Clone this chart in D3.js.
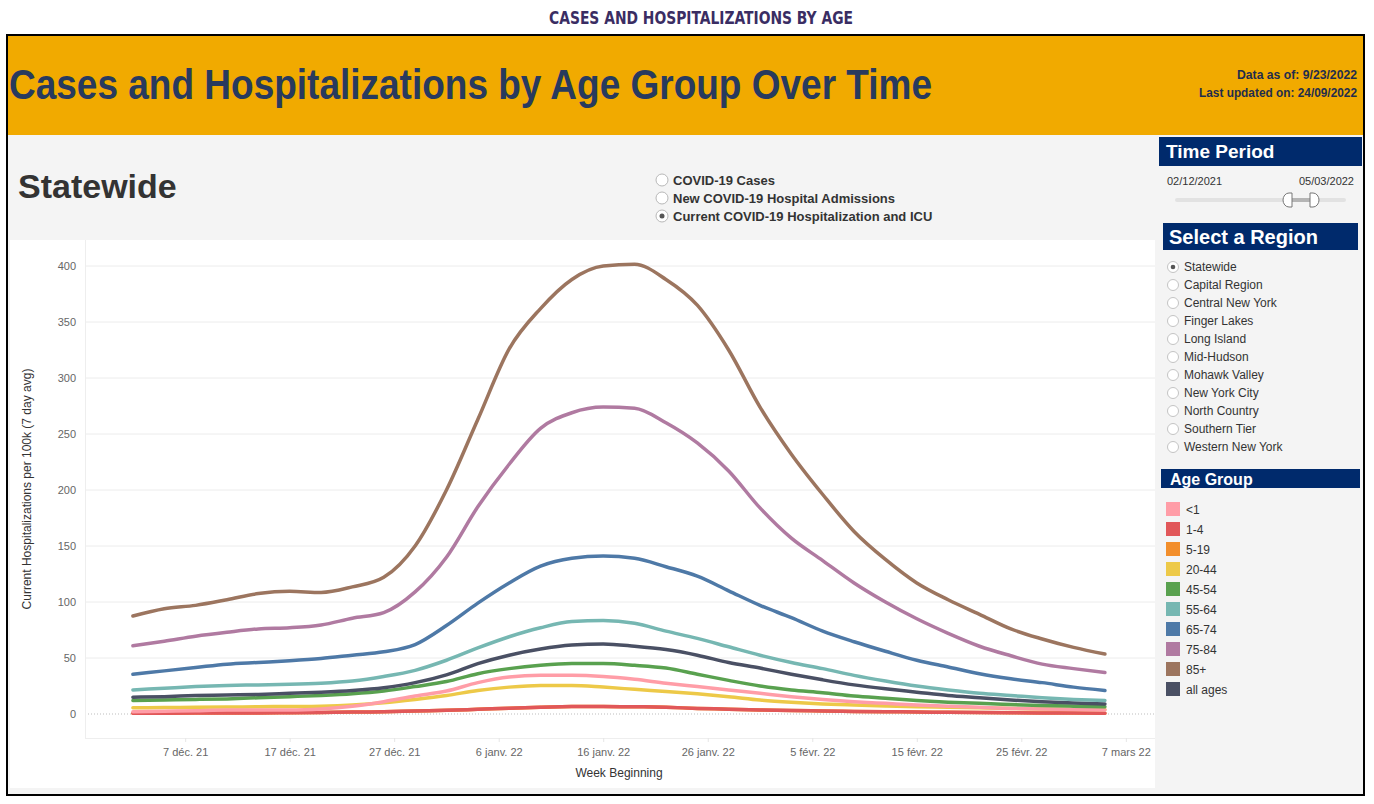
<!DOCTYPE html>
<html>
<head>
<meta charset="utf-8">
<script src="https://cdn.jsdelivr.net/npm/d3@7"></script>
<style>
  html, body { margin: 0; padding: 0; background: #ffffff; }
  svg { display: block; font-family: "Liberation Sans", Arial, sans-serif; }
</style>
</head>
<body>
<svg id="chart" width="1374" height="804"></svg>
<script>
// ---------------- DATA ----------------
const dates = ["2021-12-02","2021-12-05","2021-12-08","2021-12-11","2021-12-14","2021-12-17","2021-12-20","2021-12-23",
  "2021-12-26","2021-12-29","2022-01-01","2022-01-04","2022-01-07","2022-01-10","2022-01-13","2022-01-16",
  "2022-01-19","2022-01-22","2022-01-25","2022-01-28","2022-01-31","2022-02-03","2022-02-06","2022-02-09",
  "2022-02-12","2022-02-15","2022-02-18","2022-02-21","2022-02-24","2022-02-27","2022-03-02","2022-03-05"];

const ageGroups = ["<1","1-4","5-19","20-44","45-54","55-64","65-74","75-84","85+","all ages"];
const ageColors = ["#ff9da7","#e15759","#f28e2b","#edc948","#59a14f","#76b7b2","#4e79a7","#b07aa1","#9c755f","#4a5064"];

const valuesUnder1 = [2,2.5,3,3.5,3.5,3.5,4.5,7,11,16,20.5,28,33,34.5,34.5,33.5,31,27.5,24.5,21.5,18.5,15.5,13,11,9.5,8,7,6,5,4.5,4,3.5];
const values1to4 = [0.6,0.7,0.8,0.9,1,1.2,1.4,1.7,2,2.7,3.3,4.2,5.2,6,6.6,6.8,6.5,6,5,4.3,3.6,3.1,2.7,2.3,2,1.8,1.5,1.3,1.1,0.9,0.8,0.7];
const values5to19 = [0.6,0.7,0.8,0.9,1,1.2,1.4,1.7,2,2.7,3.3,4.2,5.2,6,6.6,6.8,6.5,6,5,4.3,3.6,3.1,2.7,2.3,2,1.8,1.5,1.3,1.1,0.9,0.8,0.7];
const values20to44 = [5.5,5.7,6,6.2,6.5,6.7,7,8,10,13,16.5,21,24,25.5,25.5,24,22,20,18,15.5,12.5,10.5,9,8,7.2,6.5,6,5.5,5,4.5,4.2,4];
const values45to54 = [12,12.5,13,13.5,14.5,15.5,16.5,18,20.5,24.5,29,36,40.5,43.5,45,45,43.5,41,35.5,30,25,21.5,19,16,14,12,10.5,9.5,8.5,7.5,7,6.5];
const values55to64 = [21.5,23,24.5,25.5,26,26.5,27.5,29.5,33.5,39,48,59,69,77,82.5,83.5,81,74,67.5,60,52.5,46,40.5,34.5,29.5,25,21.5,18.5,16.5,14.5,13,12];
const values65to74 = [35.5,38.5,41.5,44.5,46,47.5,49.5,52.5,55.5,62,79,99,117,132,139,141,139,131.5,123,110,97,86,74,64.5,56,48,42,36,31.5,28,24,21];
const values75to84 = [61,65,69.5,73,76,77,79.5,85.5,90.5,109,140,185,223,255,269,274,273,260,242,217,184,157,137,117,100,85,72,60.5,52,44.5,40.5,37];
const values85plus = [87.5,94,97,102,107.5,109.5,108.5,113.5,122,150,200,263,326,362,388,400,401.5,388,365,325,274,232,196,163,138,117,102,89,76,67,59.5,53.5];
const valuesAllAges = [15,15.5,16.5,17,17.5,18.5,19.5,21,23.5,28,35,45,52.5,58,61.5,62.5,60.5,57.5,52.5,46,41,35.5,30.5,26,22.5,19.5,16.5,14.5,12.5,11,9.8,9];

const yTicks = [0,50,100,150,200,250,300,350,400];
const xTickDates = ["2021-12-07","2021-12-17","2021-12-27","2022-01-06","2022-01-16","2022-01-26","2022-02-05","2022-02-15","2022-02-25","2022-03-07"];
const xTickLabels = ["7 déc. 21","17 déc. 21","27 déc. 21","6 janv. 22","16 janv. 22","26 janv. 22","5 févr. 22","15 févr. 22","25 févr. 22","7 mars 22"];

const regions = ["Statewide","Capital Region","Central New York","Finger Lakes","Long Island","Mid-Hudson","Mohawk Valley","New York City","North Country","Southern Tier","Western New York"];
const metrics = ["COVID-19 Cases","New COVID-19 Hospital Admissions","Current COVID-19 Hospitalization and ICU"];

// series table (drawing order: bottom first)
const seriesValues = {
  "<1": valuesUnder1, "1-4": values1to4, "5-19": values5to19, "20-44": values20to44,
  "45-54": values45to54, "55-64": values55to64, "65-74": values65to74, "75-84": values75to84,
  "85+": values85plus, "all ages": valuesAllAges
};
const drawOrder = ["5-19","1-4","20-44","<1","45-54","all ages","55-64","65-74","75-84","85+"];

// ---------------- DRAW ----------------
const svg = d3.select("#chart");
const parse = d3.utcParse("%Y-%m-%d");
const colorOf = d3.scaleOrdinal(ageGroups, ageColors);

// Top page title
svg.append("text").attr("x", 701).attr("y", 24).attr("text-anchor", "middle")
  .attr("font-family", "'DejaVu Sans Condensed', 'Liberation Sans Narrow', sans-serif")
  .attr("font-weight", "bold").attr("font-size", 17).attr("fill", "#3a2d63")
  .attr("textLength", 304).attr("lengthAdjust", "spacingAndGlyphs")
  .text("CASES AND HOSPITALIZATIONS BY AGE");

// Dashboard frame
svg.append("rect").attr("x", 8).attr("y", 36).attr("width", 1355).attr("height", 758).attr("fill", "#f4f4f4");
svg.append("rect").attr("x", 8).attr("y", 36).attr("width", 1355).attr("height", 99).attr("fill", "#f1aa00");
svg.append("text").attr("x", 9).attr("y", 99).attr("font-weight", "bold").attr("font-size", 42)
  .attr("fill", "#283a5e").attr("textLength", 923).attr("lengthAdjust", "spacingAndGlyphs")
  .text("Cases and Hospitalizations by Age Group Over Time");
svg.append("text").attr("x", 1357).attr("y", 79).attr("text-anchor", "end").attr("font-weight", "bold")
  .attr("font-size", 12.5).attr("fill", "#1f2d4d").attr("textLength", 120).attr("lengthAdjust", "spacingAndGlyphs")
  .text("Data as of: 9/23/2022");
svg.append("text").attr("x", 1357).attr("y", 97).attr("text-anchor", "end").attr("font-weight", "bold")
  .attr("font-size", 12.5).attr("fill", "#1f2d4d").attr("textLength", 158).attr("lengthAdjust", "spacingAndGlyphs")
  .text("Last updated on: 24/09/2022");

// Chart panel
svg.append("rect").attr("x", 10).attr("y", 240).attr("width", 1145).attr("height", 548).attr("fill", "#ffffff");
svg.append("text").attr("x", 18).attr("y", 198).attr("font-weight", "bold").attr("font-size", 34)
  .attr("fill", "#333333").text("Statewide");

// Metric radio buttons
const mg = svg.append("g");
metrics.forEach((m, i) => {
  const cy = 180 + i * 18;
  mg.append("circle").attr("cx", 662).attr("cy", cy).attr("r", 6).attr("fill", "#ffffff").attr("stroke", "#b8b8b8");
  if (i === 2) mg.append("circle").attr("cx", 662).attr("cy", cy).attr("r", 2.5).attr("fill", "#555");
  mg.append("text").attr("x", 673).attr("y", cy + 4.5).attr("font-weight", "bold").attr("font-size", 13)
    .attr("fill", "#333").text(m);
});

// Scales
const plotL = 85, plotR = 1155, plotT = 240, plotB = 738;
const x = d3.scaleUtc()
  .domain([new Date(Date.UTC(2021, 10, 27, 10)), new Date(Date.UTC(2022, 2, 9, 19))])
  .range([plotL, plotR]);
const y = d3.scaleLinear().domain([0, 400]).range([714, 266]);

// Gridlines
svg.append("g").selectAll("line").data(yTicks.filter(d => d !== 0)).join("line")
  .attr("x1", plotL).attr("x2", plotR).attr("y1", d => y(d)).attr("y2", d => y(d))
  .attr("stroke", "#ececec").attr("stroke-width", 1);
svg.append("line").attr("x1", plotL).attr("x2", plotR).attr("y1", y(0)).attr("y2", y(0))
  .attr("stroke", "#bdbdbd").attr("stroke-dasharray", "1,2");
// plot frame lines
svg.append("line").attr("x1", plotL + 0.5).attr("x2", plotL + 0.5).attr("y1", plotT).attr("y2", plotB)
  .attr("stroke", "#eeeeee");
svg.append("line").attr("x1", plotL).attr("x2", plotR).attr("y1", plotB + 0.5).attr("y2", plotB + 0.5)
  .attr("stroke", "#eeeeee");

// Y axis
const yAxis = d3.axisLeft(y).tickValues(yTicks).tickSize(0).tickPadding(9);
const yg = svg.append("g").attr("transform", `translate(${plotL},0)`).call(yAxis);
yg.select(".domain").remove();
yg.selectAll("text").attr("font-family", "'Liberation Sans', Arial, sans-serif").attr("font-size", 11).attr("fill", "#666");

svg.append("text").attr("transform", "translate(31,489) rotate(-90)").attr("text-anchor", "middle")
  .attr("font-size", 12).attr("fill", "#333").text("Current Hospitalizations per 100k (7 day avg)");

// X axis
const xAxis = d3.axisBottom(x).tickValues(xTickDates.map(parse))
  .tickFormat((d, i) => xTickLabels[i]).tickSize(4).tickPadding(6);
const xg = svg.append("g").attr("transform", `translate(0,${plotB})`).call(xAxis);
xg.select(".domain").remove();
xg.selectAll(".tick line").attr("stroke", "#e6e6e6");
xg.selectAll("text").attr("font-family", "'Liberation Sans', Arial, sans-serif").attr("font-size", 11).attr("fill", "#666");
svg.append("text").attr("x", 619).attr("y", 777).attr("text-anchor", "middle")
  .attr("font-size", 12).attr("fill", "#333").text("Week Beginning");

// Lines
const line = d3.line().x(d => x(d.date)).y(d => y(d.value)).curve(d3.curveMonotoneX);
const lg = svg.append("g");
drawOrder.forEach(k => {
  const pts = dates.map((d, i) => ({ date: parse(d), value: seriesValues[k][i] }));
  lg.append("path").datum(pts).attr("d", line).attr("fill", "none")
    .attr("stroke", colorOf(k)).attr("stroke-width", 3.5)
    .attr("stroke-linejoin", "round").attr("stroke-linecap", "round");
});

// ---------------- SIDEBAR ----------------
const sb = svg.append("g");
const navy = "#002a6c";
sb.append("rect").attr("x", 1159).attr("y", 137).attr("width", 203).attr("height", 29).attr("fill", navy);
sb.append("text").attr("x", 1166).attr("y", 158).attr("font-weight", "bold").attr("font-size", 19)
  .attr("fill", "#fff").text("Time Period");
sb.append("text").attr("x", 1167).attr("y", 185).attr("font-size", 11).attr("fill", "#333").text("02/12/2021");
sb.append("text").attr("x", 1354).attr("y", 185).attr("text-anchor", "end").attr("font-size", 11).attr("fill", "#333").text("05/03/2022");
sb.append("rect").attr("x", 1175).attr("y", 198).attr("width", 171).attr("height", 4).attr("rx", 2).attr("fill", "#e2e2e2");
sb.append("rect").attr("x", 1290).attr("y", 198).attr("width", 22).attr("height", 4).attr("fill", "#b5b5b5");
// slider handles (half-rounded)
sb.append("path").attr("d", "M1292,193 L1289,193 A6,7 0 0 0 1289,207 L1292,207 Z")
  .attr("fill", "#fff").attr("stroke", "#777").attr("stroke-width", 1);
sb.append("path").attr("d", "M1310,193 L1313,193 A6,7 0 0 1 1313,207 L1310,207 Z")
  .attr("fill", "#fff").attr("stroke", "#777").attr("stroke-width", 1);

sb.append("rect").attr("x", 1163).attr("y", 223).attr("width", 195).attr("height", 27).attr("fill", navy);
sb.append("text").attr("x", 1169).attr("y", 244).attr("font-weight", "bold").attr("font-size", 20)
  .attr("fill", "#fff").text("Select a Region");
regions.forEach((r, i) => {
  const cy = 267 + i * 18;
  sb.append("circle").attr("cx", 1173).attr("cy", cy).attr("r", 5.5).attr("fill", "#fff").attr("stroke", "#c4c4c4");
  if (i === 0) sb.append("circle").attr("cx", 1173).attr("cy", cy).attr("r", 2.3).attr("fill", "#555");
  sb.append("text").attr("x", 1184).attr("y", cy + 4).attr("font-size", 12).attr("fill", "#333").text(r);
});

sb.append("rect").attr("x", 1161).attr("y", 469).attr("width", 199).attr("height", 19).attr("fill", navy);
sb.append("text").attr("x", 1170).attr("y", 485).attr("font-weight", "bold").attr("font-size", 16)
  .attr("fill", "#fff").text("Age Group");
ageGroups.forEach((g, i) => {
  const cy = 509 + i * 20;
  sb.append("rect").attr("x", 1166).attr("y", cy - 7).attr("width", 14).attr("height", 14).attr("fill", colorOf(g));
  sb.append("text").attr("x", 1186).attr("y", cy + 4.5).attr("font-size", 12).attr("fill", "#333").text(g);
});

// Outer black border
svg.append("rect").attr("x", 7).attr("y", 35).attr("width", 1357).attr("height", 760)
  .attr("fill", "none").attr("stroke", "#000").attr("stroke-width", 2);
</script>
</body>
</html>
